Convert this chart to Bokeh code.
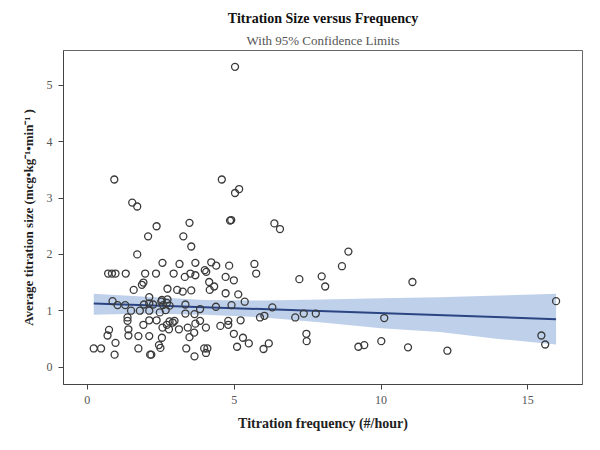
from bokeh.plotting import figure
from bokeh.models import Title, Range1d, FixedTicker
from bokeh.embed import file_html
from bokeh.resources import INLINE

# Titration frequency (#/hour)
freq = [0.92, 4.58, 5.03, 5.17, 1.53, 1.70, 4.86, 4.90, 2.36, 3.48, 2.07, 3.27, 3.54, 1.70,
        2.56, 3.14, 3.68, 4.22, 4.39, 4.83, 5.69, 4.00, 4.05, 5.03,
        0.71, 0.84, 0.96, 1.31, 1.97, 2.34, 2.94, 3.32, 3.51, 3.68, 4.99, 4.71, 5.75,
        1.91, 1.86, 1.58, 2.73, 3.06, 3.25, 3.54, 4.15, 4.32, 4.17, 4.71, 5.14,
        2.11, 2.73, 2.52, 5.36, 0.86, 1.03, 1.29, 1.93, 2.11, 2.24, 2.54, 2.58, 2.71, 2.80,
        3.34, 3.84, 4.38, 4.91, 1.49, 1.79, 2.11, 2.47, 2.67, 3.34, 3.65,
        1.37, 1.37, 2.11, 2.36, 2.80, 2.97, 2.71, 2.91, 3.84, 3.68, 4.80, 4.80, 5.22,
        1.91, 2.56, 2.78, 3.12, 3.42, 4.04, 4.53, 0.74, 1.40, 0.69, 1.40, 1.74, 2.11, 2.54,
        3.48, 3.64, 4.99, 5.30, 5.50, 0.96, 2.44, 2.49, 5.10, 0.22, 0.47, 1.74, 3.37, 3.98,
        4.09, 0.93, 2.14, 2.18, 3.65, 4.04,
        6.37, 6.56, 8.89, 8.67, 7.22, 7.98, 8.10, 11.07, 6.30, 5.88, 6.03, 7.08, 7.37, 7.78,
        10.11, 7.46, 7.47, 6.00, 6.18, 9.23, 9.43, 10.01, 10.92, 12.26, 15.96, 15.46, 15.59]

# Average titration size (mcg/kg/min)
size = [3.33, 3.33, 3.09, 3.16, 2.92, 2.85, 2.60, 2.61, 2.50, 2.56, 2.32, 2.32, 2.14, 2.00,
        1.85, 1.83, 1.85, 1.86, 1.80, 1.80, 1.83, 1.72, 1.69, 5.33,
        1.66, 1.66, 1.66, 1.66, 1.66, 1.66, 1.66, 1.60, 1.66, 1.63, 1.54, 1.60, 1.66,
        1.50, 1.46, 1.37, 1.39, 1.37, 1.34, 1.36, 1.51, 1.43, 1.37, 1.31, 1.29,
        1.24, 1.20, 1.16, 1.16, 1.17, 1.10, 1.10, 1.11, 1.13, 1.11, 1.19, 1.10, 1.14, 1.09,
        1.11, 1.03, 1.07, 1.10, 1.00, 1.00, 1.00, 0.97, 1.01, 0.95, 0.94,
        0.88, 0.82, 0.83, 0.83, 0.81, 0.82, 0.75, 0.79, 0.82, 0.77, 0.82, 0.75, 0.83,
        0.75, 0.70, 0.67, 0.67, 0.70, 0.70, 0.73, 0.66, 0.67, 0.56, 0.56, 0.55, 0.55, 0.52,
        0.53, 0.61, 0.59, 0.52, 0.42, 0.43, 0.39, 0.34, 0.36, 0.33, 0.33, 0.33, 0.33, 0.33,
        0.33, 0.22, 0.22, 0.22, 0.19, 0.25,
        2.55, 2.45, 2.05, 1.79, 1.56, 1.61, 1.43, 1.51, 1.06, 0.88, 0.91, 0.88, 0.95, 0.95,
        0.87, 0.59, 0.46, 0.32, 0.42, 0.36, 0.39, 0.46, 0.35, 0.29, 1.17, 0.56, 0.40]

# Fitted regression line
fit_x = [0.22, 15.96]
fit_y = [1.13, 0.85]

# 95% confidence limits for the mean
band_x = [0.22, 2, 4, 6, 8, 10, 12, 14, 15.96]
band_upper = [1.30, 1.25, 1.19, 1.18, 1.20, 1.22, 1.24, 1.27, 1.30]
band_lower = [0.93, 0.95, 0.93, 0.88, 0.79, 0.69, 0.62, 0.50, 0.40]

x_ticks = [0, 5, 10, 15]
y_ticks = [0, 1, 2, 3, 4, 5]

serif = "Liberation Serif"

p = figure(frame_width=519, frame_height=334, output_backend="svg", toolbar_location=None,
           x_range=Range1d(-0.81, 16.86), y_range=Range1d(-0.31, 5.62),
           min_border_left=63, min_border_right=2, min_border_top=50, min_border_bottom=50,
           title=None)

p.varea(x=band_x, y1=band_lower, y2=band_upper, fill_color="#BFD0EA", fill_alpha=1.0)
p.line(x=fit_x, y=fit_y, line_color="#2B4582", line_width=2)
p.scatter(x=freq, y=size, marker="circle", size=7, fill_color=None,
          line_color="#3a3a3a", line_width=1.3)

p.add_layout(Title(text="With 95% Confidence Limits", align="center", text_font=serif,
                   text_font_size="13px", text_font_style="normal", text_color="#555555",
                   standoff=5), "above")
p.add_layout(Title(text="Titration Size versus Frequency", align="center", text_font=serif,
                   text_font_size="14px", text_font_style="bold", text_color="#111111",
                   standoff=5), "above")

p.xgrid.visible = False
p.ygrid.visible = False
p.outline_line_color = "#666666"
p.outline_line_width = 1

for ax in (p.xaxis[0], p.yaxis[0]):
    ax.axis_line_color = "#444444"
    ax.major_tick_line_color = "#444444"
    ax.major_tick_out = 5
    ax.major_tick_in = 0
    ax.minor_tick_line_color = None
    ax.major_label_text_font = serif
    ax.major_label_text_font_size = "12px"
    ax.major_label_text_color = "#555555"
    ax.axis_label_text_font = serif
    ax.axis_label_text_font_style = "bold"
    ax.axis_label_text_color = "#222222"

p.xaxis.axis_label_text_font_size = "14px"
p.yaxis.axis_label_text_font_size = "13px"
p.xaxis.ticker = FixedTicker(ticks=x_ticks)
p.yaxis.ticker = FixedTicker(ticks=y_ticks)
p.xaxis.axis_label = "Titration frequency (#/hour)"
p.yaxis.axis_label = "Average titration size (mcg\u2022kg\u207b\u00b9\u2022min\u207b\u00b9 )"
p.xaxis.major_label_standoff = 6
p.xaxis.axis_label_standoff = 9
p.yaxis.major_label_standoff = 6
p.yaxis.axis_label_standoff = 8

open("out.html", "w").write(file_html(p, INLINE))
